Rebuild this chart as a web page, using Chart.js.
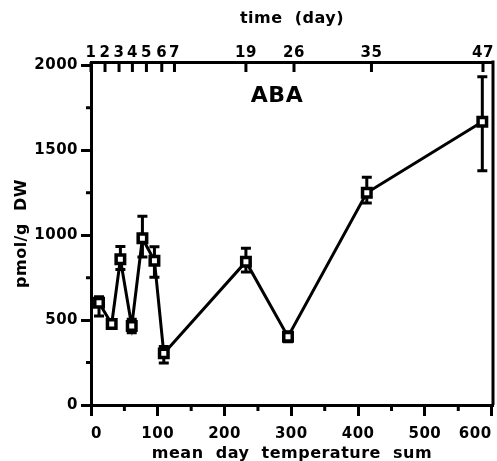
<!DOCTYPE html>
<html>
<head>
<meta charset="utf-8">
<script src="https://cdn.jsdelivr.net/npm/chart.js@4.4.0/dist/chart.umd.min.js"></script>
<style>
  html, body { margin: 0; padding: 0; background: #fff; }
</style>
</head>
<body>
<canvas id="abaChart" width="497" height="461"></canvas>
<script>
// mean day temperature sum (x) and ABA content (pmol/g DW)
const tempSum   = [12, 31, 44, 61, 77, 95, 109, 232, 295, 413, 586];
const abaValues = [602, 477, 858, 465, 982, 850, 304, 844, 402, 1250, 1668];
const errUp     = [35, 20, 75, 40, 130, 82, 40, 79, 30, 91, 265];
const errDown   = [78, 20, 60, 40, 110, 98, 57, 60, 30, 60, 288];

// top axis: sampling day, placed on the temperature-sum scale
const dayLabels    = ['1', '2', '3', '4', '5', '6', '7', '19', '26', '35', '47'];
const dayPositions = [0, 21, 42, 62, 83, 106, 125, 232, 304, 420, 587];

const xTicks = [0, 100, 200, 300, 400, 500, 600];
const xMinor = [50, 150, 250, 350, 450, 550];
const yTicks = [0, 500, 1000, 1500, 2000];
const yMinor = [250, 750, 1250, 1750];

const FONT = 'DejaVu Sans, Arial, sans-serif';

// keep the plot box fixed, labels may overhang
const noPad = s => { s.paddingLeft = 0; s.paddingRight = 0; s.paddingTop = 0; s.paddingBottom = 0; };

const extras = {
  id: 'extras',
  beforeUpdate(chart) { chart.ctx.letterSpacing = '0.5px'; },
  beforeDraw(chart) { chart.ctx.letterSpacing = '0.5px'; },
  beforeDatasetsDraw(chart) {
    const {ctx} = chart;
    const x = chart.scales.x, y = chart.scales.y;
    ctx.save();
    ctx.strokeStyle = '#000';
    ctx.lineWidth = 3;
    tempSum.forEach((t, i) => {
      const px = x.getPixelForValue(t);
      const top = y.getPixelForValue(abaValues[i] + errUp[i]);
      const bot = y.getPixelForValue(abaValues[i] - errDown[i]);
      ctx.beginPath();
      ctx.moveTo(px, top); ctx.lineTo(px, bot);
      ctx.moveTo(px - 5, top); ctx.lineTo(px + 5, top);
      ctx.moveTo(px - 5, bot); ctx.lineTo(px + 5, bot);
      ctx.stroke();
    });
    ctx.restore();
  },
  afterDraw(chart) {
    const {ctx, chartArea: a} = chart;
    const x = chart.scales.x, y = chart.scales.y;
    ctx.save();
    ctx.strokeStyle = '#000';
    ctx.lineWidth = 3;
    ctx.beginPath();
    // right frame
    ctx.moveTo(a.right, a.top - 1.5); ctx.lineTo(a.right, a.bottom);
    // minor ticks
    xMinor.forEach(v => { const p = x.getPixelForValue(v); ctx.moveTo(p, a.bottom); ctx.lineTo(p, a.bottom + 6); });
    yMinor.forEach(v => { const p = y.getPixelForValue(v); ctx.moveTo(a.left, p); ctx.lineTo(a.left - 5, p); });
    // top day ticks pointing inward
    dayPositions.forEach(v => { const p = x.getPixelForValue(v); ctx.moveTo(p, a.top); ctx.lineTo(p, a.top + 10); });
    ctx.stroke();
    // panel label
    ctx.letterSpacing = '0.5px';
    ctx.fillStyle = '#000';
    ctx.font = 'bold 22px ' + FONT;
    ctx.textAlign = 'center';
    ctx.textBaseline = 'middle';
    ctx.fillText('ABA', 277, 96);
    ctx.restore();
  }
};

const ctx = document.getElementById('abaChart').getContext('2d');
const abaChart = new Chart(ctx, {
  type: 'line',
  data: {
    datasets: [{
      data: tempSum.map((t, i) => ({x: t, y: abaValues[i]})),
      borderColor: '#000',
      borderWidth: 3,
      pointStyle: 'rect',
      pointRadius: 6,
      pointBorderWidth: 3.5,
      pointBackgroundColor: '#fff',
      pointBorderColor: '#000',
      tension: 0,
      clip: false
    }]
  },
  options: {
    responsive: false,
    animation: false,
    layout: { autoPadding: false, padding: { left: 0, right: 4, top: 0, bottom: 0 } },
    plugins: { legend: { display: false }, tooltip: { enabled: false } },
    scales: {
      x: {
        type: 'linear', position: 'bottom', min: 0, max: 602,
        afterBuildTicks: s => { s.ticks = xTicks.map(v => ({value: v})); },
        afterFit: s => { s.height = 56; noPad(s); },
        border: { color: '#000', width: 3 },
        grid: { drawOnChartArea: false, drawTicks: true, tickLength: 11, tickWidth: 3, tickColor: '#000' },
        ticks: { color: '#000', padding: 9, maxRotation: 0, align: 'inner', callback: v => String(v),
                 font: { family: FONT, size: 15, weight: 'bold' } },
        title: { display: true, text: 'mean  day  temperature  sum', color: '#000', padding: { top: 0, bottom: -2 },
                 font: { family: FONT, size: 16, weight: 'bold' } }
      },
      x2: {
        type: 'linear', position: 'top', min: 0, max: 602,
        afterBuildTicks: s => { s.ticks = dayPositions.map(v => ({value: v})); },
        afterFit: s => { s.height = 62; noPad(s); },
        border: { color: '#000', width: 3 },
        grid: { display: false },
        ticks: { color: '#000', padding: -8, maxRotation: 0, autoSkip: false,
                 callback: (v, i) => dayLabels[i],
                 font: { family: FONT, size: 15, weight: 'bold' } },
        title: { display: true, text: 'time  (day)', color: '#000', padding: { top: 9 },
                 font: { family: FONT, size: 16, weight: 'bold' } }
      },
      y: {
        type: 'linear', position: 'left', min: 0, max: 2020,
        afterBuildTicks: s => { s.ticks = yTicks.map(v => ({value: v})); },
        afterFit: s => { s.width = 91; noPad(s); },
        border: { color: '#000', width: 3 },
        grid: { drawOnChartArea: false, drawTicks: true, tickLength: 10, tickWidth: 3, tickColor: '#000' },
        ticks: { color: '#000', padding: 3, callback: v => String(v),
                 font: { family: FONT, size: 15, weight: 'bold' } },
        title: { display: true, text: 'pmol/g  DW', color: '#000', padding: { top: 12 },
                 font: { family: FONT, size: 16, weight: 'bold' } }
      }
    }
  },
  plugins: [extras]
});
</script>
</body>
</html>
